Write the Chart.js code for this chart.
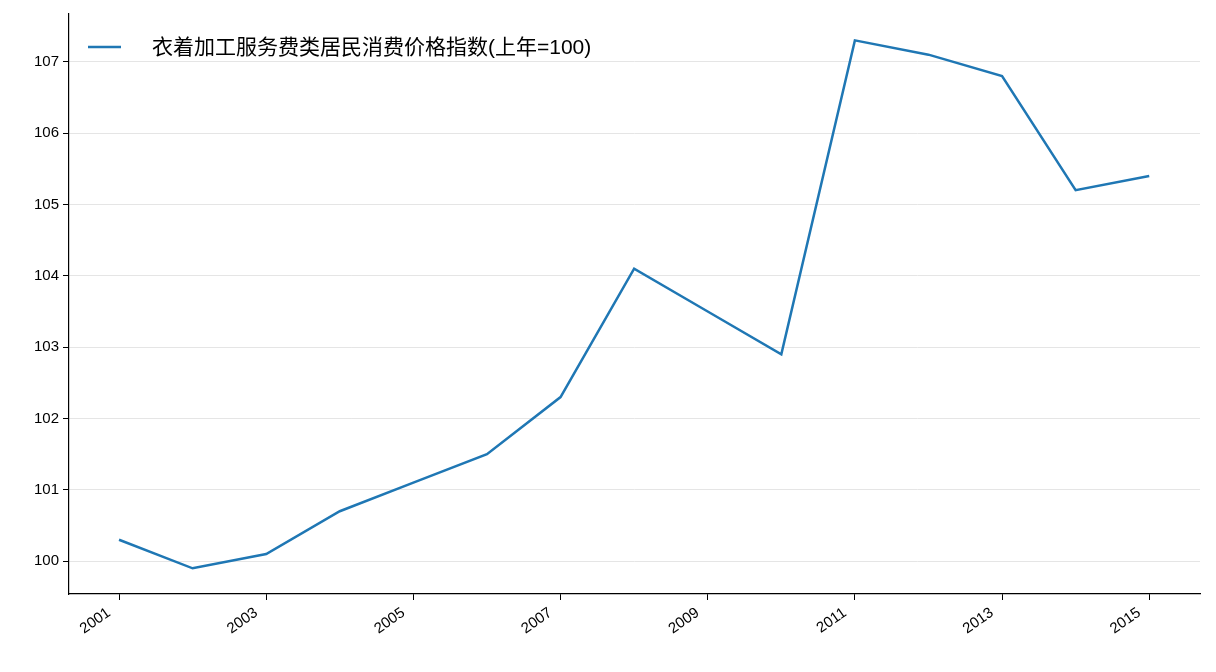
<!DOCTYPE html>
<html><head><meta charset="utf-8">
<script src="https://cdn.jsdelivr.net/npm/chart.js@4"></script>
<style>html,body{margin:0;background:#fff}#wrap{width:1216px;height:672px}</style>
</head><body><div id="wrap"><canvas id="c"></canvas></div>
<script>
const years = [2001,2002,2003,2004,2005,2006,2007,2008,2009,2010,2011,2012,2013,2014,2015];
const values = [100.3,99.9,100.1,100.7,101.1,101.5,102.3,104.1,103.5,102.9,107.3,107.1,106.8,105.2,105.4];
const xTicks = [2001,2003,2005,2007,2009,2011,2013,2015];
const yTicks = [100,101,102,103,104,105,106,107];
const seriesName = '衣着加工服务费类居民消费价格指数(上年=100)';
const FONT = "Arial, 'Liberation Sans', 'Noto Sans CJK SC', sans-serif";

const legendPlugin = {
  id: 'insideLegend',
  afterDraw(chart) {
    const {ctx, chartArea} = chart;
    const x = chartArea.left + 19, y = chartArea.top + 33;
    ctx.save();
    ctx.strokeStyle = '#1f77b4'; ctx.lineWidth = 2.5;
    ctx.beginPath(); ctx.moveTo(x, y); ctx.lineTo(x + 33, y); ctx.stroke();
    ctx.font = "16px " + FONT;
    const w = ctx.measureText(seriesName).width;
    const size = Math.min(21, 16 * 463 / w);
    ctx.font = size.toFixed(1) + "px " + FONT;
    ctx.fillStyle = '#000'; ctx.textBaseline = 'middle';
    ctx.fillText(seriesName, x + 64, y + 1);
    ctx.restore();
  }
};

new Chart(document.getElementById('c'), {
  type: 'line',
  data: { datasets: [{ label: seriesName, data: years.map((y, i) => ({x: y, y: values[i]})),
    borderColor: '#1f77b4', borderWidth: 2.5, pointRadius: 0, tension: 0, fill: false }] },
  options: {
    responsive: true, maintainAspectRatio: false, animation: false,
    layout: { padding: { top: 14, right: 16, left: 0, bottom: 0 } },
    plugins: { legend: { display: false }, tooltip: { enabled: false } },
    scales: {
      x: { type: 'linear', min: 2000.32, max: 2015.69,
        afterBuildTicks: s => { s.ticks = xTicks.map(v => ({value: v})); },
        afterFit: s => { s.height = 78; },
        grid: { display: true, drawOnChartArea: false, drawTicks: true, tickLength: 6, tickColor: '#000' },
        border: { color: '#000', width: 1.2 },
        ticks: { color: '#000', font: { family: FONT, size: 15 }, maxRotation: 35, minRotation: 35,
          labelOffset: -10, padding: 4, callback: v => String(v) } },
      y: { min: 99.54, max: 107.67,
        afterBuildTicks: s => { s.ticks = yTicks.map(v => ({value: v})); },
        afterFit: s => { s.width = 69; },
        grid: { color: '#e5e5e5', lineWidth: 1, tickLength: 6, tickColor: '#000' },
        border: { color: '#000', width: 1.2 },
        ticks: { color: '#000', font: { family: FONT, size: 15 }, padding: 4 } }
    }
  },
  plugins: [legendPlugin]
});
</script></body></html>
